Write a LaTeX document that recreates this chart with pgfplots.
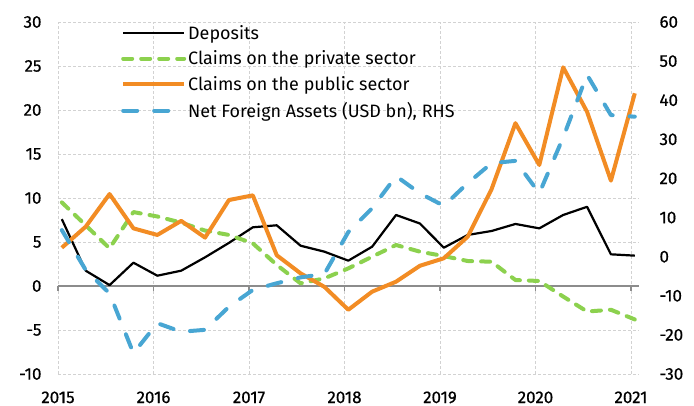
\documentclass[border=0pt]{standalone}
\usepackage{pgfplots}
\pgfplotsset{compat=1.18}
\usepackage{pgfplotstable}
\usepackage{fontspec}
\setmainfont{Fira Sans}
\newfontfamily\tickfont{Fira Sans}[FakeBold=0.6]
\definecolor{cOrange}{RGB}{242,140,36}
\definecolor{cGreen}{RGB}{140,209,78}
\definecolor{cBlue}{RGB}{72,166,211}
\definecolor{cGrid}{RGB}{210,210,210}
\definecolor{cZero}{RGB}{140,140,140}

% x = years since 2015
\pgfplotstableread{
x      dep    priv   pub    nfa
0.04   7.60   9.50   4.35   6.8
0.29   1.74   6.90   6.74  -3.4
0.54   0.10   4.28  10.45  -9.4
0.79   2.65   8.40   6.55 -24.7
1.04   1.17   7.90   5.80 -17.0
1.29   1.74   7.20   7.40 -19.2
1.54   3.26   6.30   5.50 -18.7
1.79   4.90   5.80   9.77 -12.8
2.04   6.67   4.85  10.30  -8.5
2.29   6.90   2.40   3.50  -6.8
2.54   4.58   0.30   1.44  -5.3
2.79   3.90   0.87  -0.10  -4.4
3.04   2.88   2.00  -2.70   6.3
3.29   4.47   3.33  -0.64  12.4
3.54   8.07   4.66   0.49  20.6
3.79   7.10   3.90   2.30  16.2
4.04   4.35   3.40   3.15  13.0
4.29   5.80   2.84   5.60  18.8
4.54   6.25   2.76  11.00  23.9
4.79   7.05   0.68  18.50  24.5
5.04   6.55   0.57  13.75  16.2
5.29   8.07  -1.20  24.85  30.5
5.54   9.00  -2.90  19.80  46.5
5.79   3.60  -2.70  11.97  36.2
6.04   3.45  -3.80  21.90  35.8
}\datatable

\pgfplotsset{
  common/.style={
    scale only axis, width=581bp, height=352bp,
    xmin=0, xmax=6.084,
    axis line style={draw=none},
    major tick length=0pt,
    tick style={draw=none},
    /pgf/number format/assume math mode=true,
    ticklabel style={font=\tickfont\fontsize{17}{20}\selectfont},
    clip=false,
  }
}

\begin{document}
\begin{tikzpicture}
\useasboundingbox (0,0) rectangle (694bp,406bp);
\begin{axis}[common,
  at={(58bp,32bp)}, anchor=south west,
  ymin=-10, ymax=30, ytick={-10,-5,...,30},
  xtick={0,1,2,3,4,5,6},
  xticklabels={2015,2016,2017,2018,2019,2020,2021},
  grid=major,
  major grid style={draw=cGrid, dash pattern=on 3bp off 2bp, line width=0.8bp},
  yticklabel style={anchor=east, xshift=-13bp},
  xticklabel style={anchor=north, yshift=-14bp},
  legend style={draw=none, fill=none, at={(60bp,353bp)}, anchor=north west,
    font=\fontsize{18}{21}\selectfont, row sep=6.2bp,
    /tikz/every odd column/.append style={column sep=0bp}},
  legend cell align=left,
  legend image code/.code={\draw[#1] (0bp,0bp) -- (61bp,0bp);},
]
\draw[cZero, line width=1.4bp] (axis cs:0,0) -- (axis cs:6.084,0);
\pgfplotsinvokeforeach{0,1,2,3,4,5,6}{
  \draw[cZero, line width=1.2bp] (axis cs:#1,0) -- (axis cs:#1,-0.6);
}
\addplot[black, line width=2.2bp, line join=round] table[x=x, y=dep] {\datatable};
\addlegendentry{Deposits}
\addplot[cGreen, line width=4bp, line cap=round, line join=round, dash pattern=on 9bp off 9bp] table[x=x, y=priv] {\datatable};
\addlegendentry{Claims on the private sector}
\addplot[cOrange, line width=4bp, line join=round] table[x=x, y=pub] {\datatable};
\addlegendentry{Claims on the public sector}
\addlegendimage{cBlue, line width=4bp, line cap=round, dash pattern=on 14bp off 17bp}
\addlegendentry{Net Foreign Assets (USD bn), RHS}
\end{axis}
\begin{axis}[common,
  at={(58bp,32bp)}, anchor=south west,
  ymin=-30, ymax=60, ytick={-30,-20,...,60},
  axis y line*=right, axis x line=none,
  yticklabel style={anchor=west, xshift=17bp},
]
\addplot[cBlue, line width=4bp, line cap=round, line join=round, dash pattern=on 14bp off 17bp] table[x=x, y=nfa] {\datatable};
\end{axis}
\end{tikzpicture}
\end{document}
